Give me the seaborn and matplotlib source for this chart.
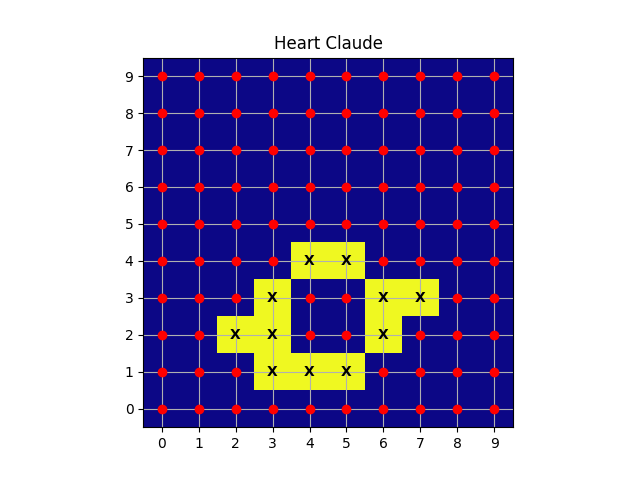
import numpy as np
import pandas as pd
import matplotlib
matplotlib.use("Agg")
import matplotlib.pyplot as plt
import seaborn as sns

grid_size = 10
# cells that are "on" (x, y)
heart_x = [4, 5, 3, 6, 7, 2, 3, 6, 3, 4, 5]
heart_y = [4, 4, 3, 3, 3, 2, 2, 2, 1, 1, 1]
title = "Heart Claude"

board = np.zeros((grid_size, grid_size))
for x, y in zip(heart_x, heart_y):
    board[y, x] = 1

on = set(zip(heart_x, heart_y))
dots = pd.DataFrame(
    [(x, y) for y in range(grid_size) for x in range(grid_size) if (x, y) not in on],
    columns=["x", "y"],
)

fig, ax = plt.subplots(figsize=(6.4, 4.8), dpi=100)
ax.imshow(board, cmap="plasma", origin="lower")
sns.scatterplot(data=dots, x="x", y="y", color="red", s=36,
                edgecolor="red", linewidth=1, ax=ax, legend=False, zorder=3)
for x, y in zip(heart_x, heart_y):
    ax.text(x, y, "X", ha="center", va="center", fontsize=10,
            fontweight="bold", color="black", zorder=4)

ax.set_xticks(range(grid_size))
ax.set_yticks(range(grid_size))
ax.set_xlim(-0.5, grid_size - 0.5)
ax.set_ylim(-0.5, grid_size - 0.5)
ax.set_xlabel("")
ax.set_ylabel("")
ax.grid(True)
ax.set_title(title)

fig.savefig("out.png")
plt.close(fig)
